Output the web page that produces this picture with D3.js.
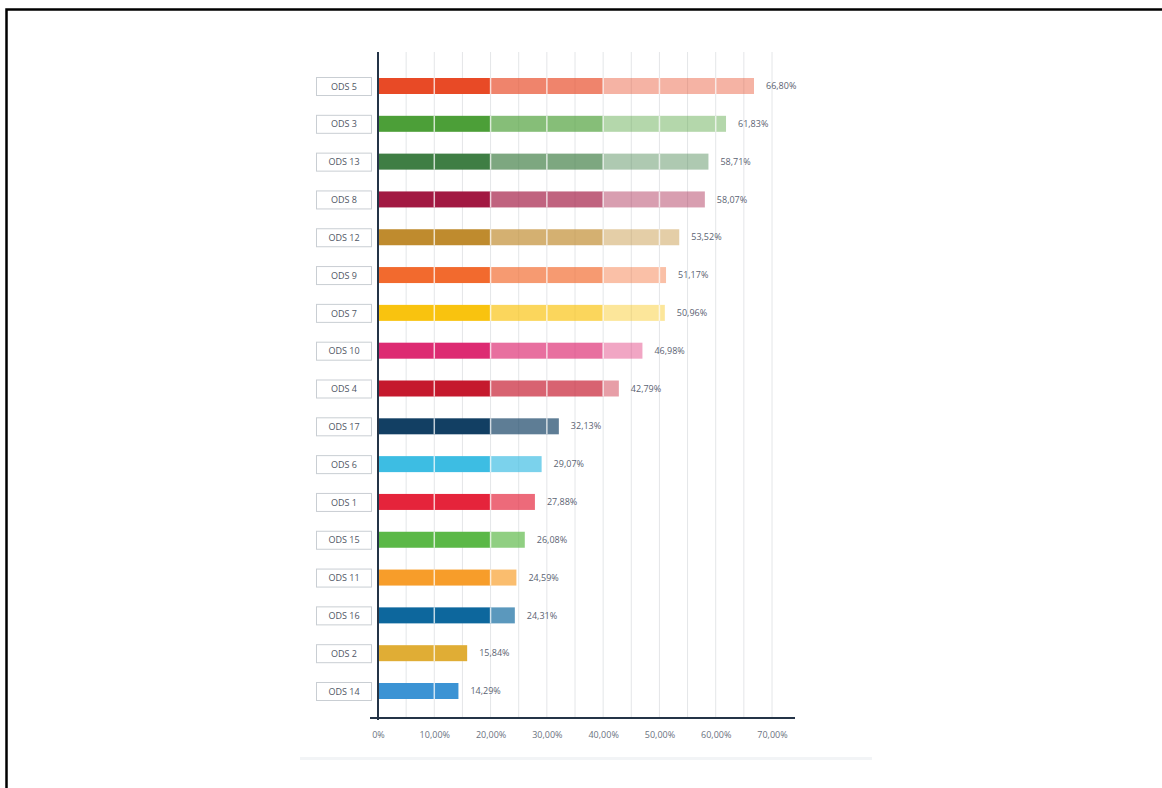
<!DOCTYPE html>
<html>
<head>
<meta charset="utf-8">
<script src="https://cdn.jsdelivr.net/npm/d3@7"></script>
<style>
  body { margin: 0; background: #fff; }
  svg { display: block; font-family: "Open Sans", "DejaVu Sans", sans-serif; }
</style>
</head>
<body>
<svg id="chart" width="1162" height="788"></svg>
<script>
// ODS share, sorted as in the picture
const categories = ["ODS 5", "ODS 3", "ODS 13", "ODS 8", "ODS 12", "ODS 9", "ODS 7", "ODS 10",
  "ODS 4", "ODS 17", "ODS 6", "ODS 1", "ODS 15", "ODS 11", "ODS 16", "ODS 2", "ODS 14"];
const values = [66.80, 61.83, 58.71, 58.07, 53.52, 51.17, 50.96, 46.98,
  42.79, 32.13, 29.07, 27.88, 26.08, 24.59, 24.31, 15.84, 14.29];
const colors = ["#e84a26", "#4c9f38", "#3f7e44", "#a21942", "#bf8b2e", "#f26a2e", "#f9c30f", "#dd2b72",
  "#c5192d", "#123f63", "#3dbde3", "#e5243b", "#5bb847", "#f79d2a", "#0d679d", "#e0ad35", "#3b93d4"];
const tickValues = [0, 10, 20, 30, 40, 50, 60, 70];
const tickLabels = ["0%", "10,00%", "20,00%", "30,00%", "40,00%", "50,00%", "60,00%", "70,00%"];

// segments: 0-20 full colour, 20-40 lighter, 40+ lightest
const segmentBreaks = [0, 20, 40, 100];
const segmentOpacity = [1, 0.68, 0.42];

const svg = d3.select("#chart");
const barH = 16;

const x = d3.scaleLinear().domain([0, 70]).range([378, 772]);
const y = d3.scalePoint().domain(categories).range([86, 691]);

const rows = categories.map((c, i) => ({ name: c, value: values[i], color: colors[i] }));

// frame (top + left only)
svg.append("path")
  .attr("d", "M6.5,788V9.5H1162")
  .attr("fill", "none")
  .attr("stroke", "#000")
  .attr("stroke-width", 2.5);

// faint base strip under the chart
svg.append("rect")
  .attr("x", 300).attr("y", 757).attr("width", 572).attr("height", 3)
  .attr("fill", "#f2f4f6");

// grid every 5%
svg.append("g")
  .selectAll("line")
  .data(d3.range(5, 71, 5))
  .join("line")
  .attr("x1", d => x(d)).attr("x2", d => x(d))
  .attr("y1", 52).attr("y2", 718)
  .attr("stroke", "#e4e6e8")
  .attr("stroke-width", 1);

// bars
const bars = svg.append("g")
  .selectAll("g")
  .data(rows)
  .join("g");

bars.selectAll("rect")
  .data(d => segmentOpacity.map((o, k) => ({
    row: d,
    x0: segmentBreaks[k],
    x1: Math.min(segmentBreaks[k + 1], d.value),
    o
  })).filter(s => s.x1 > s.x0))
  .join("rect")
  .attr("x", s => x(s.x0))
  .attr("width", s => x(s.x1) - x(s.x0))
  .attr("y", s => y(s.row.name) - barH / 2)
  .attr("height", barH)
  .attr("fill", s => s.row.color)
  .attr("fill-opacity", s => s.o);

// white separators every 10% inside the bars
bars.selectAll("line")
  .data(d => d3.range(10, d.value, 10).map(v => ({ row: d, v })))
  .join("line")
  .attr("x1", s => x(s.v)).attr("x2", s => x(s.v))
  .attr("y1", s => y(s.row.name) - barH / 2)
  .attr("y2", s => y(s.row.name) + barH / 2)
  .attr("stroke", "#fff")
  .attr("stroke-opacity", 0.75)
  .attr("stroke-width", 1.5);

// value labels
bars.append("text")
  .attr("x", d => x(d.value) + 12)
  .attr("y", d => y(d.name))
  .attr("dy", "0.35em")
  .attr("font-size", 9)
  .attr("fill", "#5b6372")
  .text(d => d.value.toFixed(2).replace(".", ",") + "%");

// category boxes
const labels = svg.append("g")
  .selectAll("g")
  .data(categories)
  .join("g")
  .attr("transform", d => `translate(316,${y(d) - 9})`);

labels.append("rect")
  .attr("x", 0.5).attr("y", 0.5)
  .attr("width", 55).attr("height", 18)
  .attr("fill", "#fff")
  .attr("stroke", "#c9ced3");

labels.append("text")
  .attr("x", 28).attr("y", 9.5)
  .attr("dy", "0.35em")
  .attr("text-anchor", "middle")
  .attr("font-size", 9)
  .attr("fill", "#4f5664")
  .text(d => d);

// axes lines
svg.append("line")
  .attr("x1", x(0)).attr("x2", x(0))
  .attr("y1", 52).attr("y2", 720)
  .attr("stroke", "#243447").attr("stroke-width", 2);

const xAxis = d3.axisBottom(x)
  .tickValues(tickValues)
  .tickSize(0)
  .tickPadding(14)
  .tickFormat((d, i) => tickLabels[i]);

svg.append("g")
  .attr("transform", "translate(0,718)")
  .call(xAxis)
  .call(g => g.select(".domain").remove())
  .call(g => g.selectAll("text")
    .attr("font-size", 9)
    .attr("font-family", "\"Open Sans\", \"DejaVu Sans\", sans-serif")
    .attr("fill", "#6b7280"));

svg.append("line")
  .attr("x1", 370).attr("x2", 795)
  .attr("y1", 718).attr("y2", 718)
  .attr("stroke", "#243447").attr("stroke-width", 2);
</script>
</body>
</html>
